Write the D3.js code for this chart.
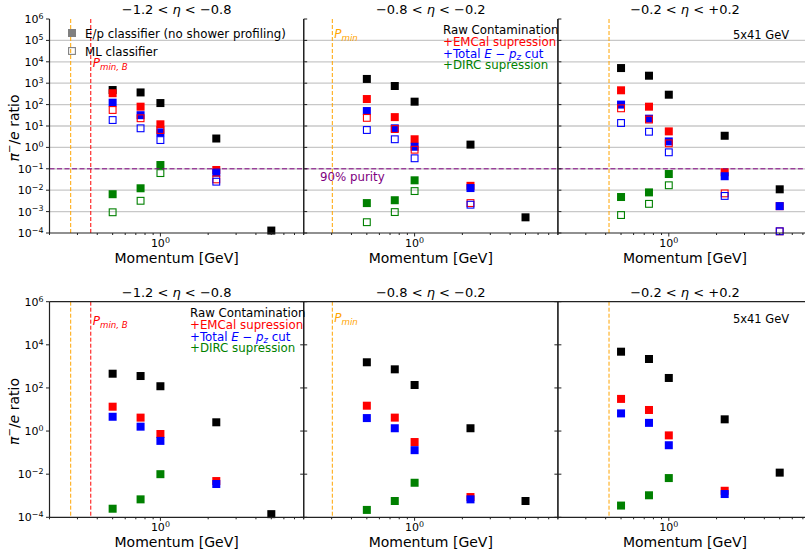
<!DOCTYPE html>
<meta charset="utf-8">
<head>
<title>pi/e ratio vs momentum</title>
<script src="https://cdn.jsdelivr.net/npm/d3@7"></script>
<style>
body { margin: 0; background: #fff; }
text { font-family: "DejaVu Sans", sans-serif; }
</style>
</head>
<body>
<script>

// data
var momentum = [0.5, 0.75, 1.0, 2.25, 5.0];
var etaLo = ["\u22121.2", "\u22120.8", "\u22120.2"];
var etaHi = ["\u22120.8", "\u22120.2", "+0.2"];
var pMin = [0.272, 0.303, 0.42];
var pMinB = 0.364;
var purity = 0.1;
var yTicksTop = [1e-4, 1e-3, 1e-2, 1e-1, 1, 1e1, 1e2, 1e3, 1e4, 1e5, 1e6];
var yTicksBot = [1e-4, 1e-2, 1, 1e2, 1e4, 1e6];
var xMinor = [0.2, 0.3, 0.4, 0.5, 0.6, 0.7, 0.8, 0.9, 2, 3, 4, 5, 6, 7, 8];

// top row: filled = E/p classifier, open = ML classifier
var rawTop   = [[480, 370, 118, 2.6, 1.3e-4], [1580, 740, 137, 1.35, 5.4e-4], [5100, 2240, 290, 3.5, 0.011]];
var emcalEp  = [[340, 80, 12, 0.088, null], [182, 26, 2.4, 0.016, null], [466, 80, 5.6, 0.069, 0.0018]];
var totalEp  = [[123, 32, 5, 0.066, null], [50, 7.8, 1.07, 0.0126, null], [100, 22, 1.9, 0.045, 0.0018]];
var dircEp   = [[0.0065, 0.0123, 0.15, null, null], [0.0025, 0.0034, 0.029, null, null], [0.0048, 0.0079, 0.057, null, null]];
var emcalML  = [[56, 23, 6.5, 0.032, null], [24, 7.2, 0.78, 0.0025, null], [67, 20, 1.55, 0.0071, 1.2e-4]];
var totalML  = [[19, 7.8, 2.2, 0.025, null], [6.5, 2.4, 0.31, 0.0021, null], [13.8, 5.4, 0.59, 0.0054, 1.2e-4]];
var dircML   = [[0.00093, 0.0032, 0.063, null, null], [3.2e-4, 9.5e-4, 0.0091, null, null], [6.9e-4, 0.0023, 0.017, null, null]];

// bottom row
var rawBot   = [[457, 357, 120, 2.55, 1.4e-4], [1550, 730, 137, 1.35, 5.7e-4], [4800, 2200, 290, 3.5, 0.0118]];
var emcalBot = [[13.5, 4.2, 0.73, 0.0048, null], [15, 4.2, 0.31, 8.7e-4, null], [31, 9.5, 0.63, 0.0017, null]];
var totalBot = [[4.6, 1.6, 0.35, 0.0035, null], [4.0, 1.35, 0.13, 6.8e-4, null], [6.6, 2.4, 0.22, 0.0012, null]];
var dircBot  = [[2.5e-4, 6.8e-4, 0.01, null, null], [2.2e-4, 5.7e-4, 0.004, null, null], [3.5e-4, 0.00105, 0.0066, null, null]];

// layout
var W = 805, H = 553;
var cols = [49.5, 303.7, 557.9];
var pw = 254.2;
var rows = [{top: 19, bot: 233}, {top: 301.7, bot: 517.3}];
var RED = "#ff0000", BLUE = "#0000ff", GREEN = "#008000", ORANGE = "#ffa500", PURPLE = "#800080";

var svg = d3.select("body").append("svg").attr("width", W).attr("height", H);

var x = d3.scaleLog().domain([0.2, 8]).range([0, pw]);

// text with simple math parts: [str, kind]  kind: "i" italic, "sub", "sup", "isub"
function mtext(g, parts, size) {
    var t = g.append("text").style("font-size", size + "px");
    var shift = 0;
    parts.forEach(function(p) {
        var s = t.append("tspan").text(p[0]);
        var k = p[1] || "";
        var dy = 0;
        if (k.indexOf("sub") >= 0) { dy = size * 0.22; s.style("font-size", (size * 0.72) + "px"); }
        if (k.indexOf("sup") >= 0) { dy = -size * 0.38; s.style("font-size", (size * 0.72) + "px"); }
        if (k.indexOf("i") === 0) s.style("font-style", "italic");
        s.attr("dy", dy - shift);
        shift = dy;
    });
    return t;
}

function expLabel(v) {
    var e = Math.round(Math.log10(v));
    return [["10", ""], [e < 0 ? "\u2212" + (-e) : "" + e, "sup"]];
}

function drawPanel(r, c) {
    var row = rows[r];
    var g = svg.append("g").attr("transform", "translate(" + cols[c] + ",0)");
    var y = d3.scaleLog().domain([1e-4, 1e6]).range([row.bot, row.top]);

    if (r === 0) {
        g.selectAll(".grid").data(yTicksTop.slice(1, -1)).enter().append("line")
            .attr("x1", 0).attr("x2", pw)
            .attr("y1", function(d) { return y(d); }).attr("y2", function(d) { return y(d); })
            .style("stroke", "#c8c8c8").style("stroke-width", 1.3);
    }

    // Pmin lines
    g.append("line").attr("x1", x(pMin[c])).attr("x2", x(pMin[c]))
        .attr("y1", row.top).attr("y2", row.bot)
        .style("stroke", ORANGE).style("stroke-width", 1).style("stroke-dasharray", "4,2");
    if (c === 0) {
        g.append("line").attr("x1", x(pMinB)).attr("x2", x(pMinB))
            .attr("y1", row.top).attr("y2", row.bot)
            .style("stroke", RED).style("stroke-width", 1).style("stroke-dasharray", "4,2");
        mtext(g, [["P", "i"], ["min, B", "isub"]], 12)
            .attr("x", x(pMinB) + 2).attr("y", r === 0 ? 67 : 325).style("fill", RED);
    }
    if (c === 1) {
        mtext(g, [["P", "i"], ["min", "isub"]], 12)
            .attr("x", x(pMin[c]) + 2).attr("y", r === 0 ? 38 : 322).style("fill", ORANGE);
    }

    var marks = g.append("g");
    function filled(vals, col) {
        var pts = momentum.map(function(m, i) { return [m, vals[i]]; }).filter(function(d) { return d[1] != null; });
        marks.selectAll(null).data(pts).enter().append("rect")
            .attr("x", function(d) { return x(d[0]) - 4; })
            .attr("y", function(d) { return y(d[1]) - 4; })
            .attr("width", 8).attr("height", 8)
            .style("fill", col);
    }
    function open(vals, col) {
        var pts = momentum.map(function(m, i) { return [m, vals[i]]; }).filter(function(d) { return d[1] != null; });
        marks.selectAll(null).data(pts).enter().append("rect")
            .attr("x", function(d) { return x(d[0]) - 3.4; })
            .attr("y", function(d) { return y(d[1]) - 3.4; })
            .attr("width", 6.8).attr("height", 6.8)
            .style("fill", "none").style("stroke", col).style("stroke-width", 1.1);
    }
    if (r === 0) {
        filled(rawTop[c], "#000");
        filled(emcalEp[c], RED);
        filled(totalEp[c], BLUE);
        filled(dircEp[c], GREEN);
        open(emcalML[c], RED);
        open(totalML[c], BLUE);
        open(dircML[c], GREEN);
        g.append("line").attr("x1", 0).attr("x2", pw)
            .attr("y1", y(purity)).attr("y2", y(purity))
            .style("stroke", PURPLE).style("stroke-width", 1).style("stroke-dasharray", "5,2.5");
    } else {
        filled(rawBot[c], "#000");
        filled(emcalBot[c], RED);
        filled(totalBot[c], BLUE);
        filled(dircBot[c], GREEN);
    }

    // spines
    var sp = g.append("g").style("stroke", "#222").style("stroke-width", 1.2);
    sp.append("line").attr("x1", 0).attr("x2", 0).attr("y1", row.top).attr("y2", row.bot);
    sp.append("line").attr("x1", pw).attr("x2", pw).attr("y1", row.top).attr("y2", row.bot);
    sp.append("line").attr("x1", 0).attr("x2", pw).attr("y1", row.bot).attr("y2", row.bot);
    if (r === 1) sp.append("line").attr("x1", 0).attr("x2", pw).attr("y1", row.top).attr("y2", row.top);

    // y ticks
    var yt = r === 0 ? yTicksTop : yTicksBot;
    var tk = g.append("g").style("stroke", "#222").style("stroke-width", 1);
    yt.forEach(function(v) {
        if (c === 0) tk.append("line").attr("x1", -3.5).attr("x2", 0).attr("y1", y(v)).attr("y2", y(v));
        else tk.append("line").attr("x1", 0).attr("x2", 3.5).attr("y1", y(v)).attr("y2", y(v));
        if (r === 1) tk.append("line").attr("x1", pw - 3.5).attr("x2", pw).attr("y1", y(v)).attr("y2", y(v));
    });
    if (c === 0) {
        yt.forEach(function(v) {
            mtext(g, expLabel(v), 11).attr("x", -6).attr("y", y(v) + 4).attr("text-anchor", "end");
        });
        mtext(g, [["\u03c0", "i"], ["\u2212", "sup"], ["/", ""], ["e", "i"], [" ratio", ""]], 14)
            .attr("text-anchor", "middle")
            .attr("transform", "translate(-31," + ((row.top + row.bot) / 2 + 2) + ") rotate(-90)");
    }

    // x ticks
    xMinor.forEach(function(v) {
        tk.append("line").attr("x1", x(v)).attr("x2", x(v)).attr("y1", row.bot).attr("y2", row.bot + 2);
    });
    tk.append("line").attr("x1", x(1)).attr("x2", x(1)).attr("y1", row.bot).attr("y2", row.bot + 3.5);
    mtext(g, expLabel(1), 11).attr("x", x(1)).attr("y", row.bot + 14).attr("text-anchor", "middle");
    g.append("text").attr("x", pw / 2).attr("y", row.bot + 30).attr("text-anchor", "middle")
        .style("font-size", "14px").text("Momentum [GeV]");

    // title
    mtext(g, [[etaLo[c] + " < ", ""], ["\u03b7", "i"], [" < " + etaHi[c], ""]], 13)
        .attr("x", pw / 2).attr("y", row.top - 5).attr("text-anchor", "middle");

    if (c === 2) {
        g.append("text").attr("x", 175).attr("y", r === 0 ? 39 : 323).style("font-size", "11.5px").text("5x41 GeV");
    }
    return g;
}

function colourLegend(gx, y0) {
    var g = svg.append("g");
    var lines = [
        [["Raw Contamination", ""]],
        [["+EMCal supression", ""]],
        [["+Total ", ""], ["E", "i"], [" \u2212 ", ""], ["p", "i"], ["z", "isub"], [" cut", ""]],
        [["+DIRC supression", ""]]
    ];
    var cl = ["#000", RED, BLUE, GREEN];
    var dy = [0, 12.5, 24, 35.5];
    lines.forEach(function(l, i) {
        mtext(g, l, 11.8).attr("x", gx).attr("y", y0 + dy[i]).style("fill", cl[i]);
    });
}

for (var r = 0; r < 2; r++) for (var c = 0; c < 3; c++) drawPanel(r, c);

// purple line label
svg.append("text").attr("x", 320).attr("y", 181).style("font-size", "11.8px").style("fill", PURPLE).text("90% purity");

colourLegend(443, 33.5);
colourLegend(190, 316.5);

// marker legend (top-left)
var lg = svg.append("g");
lg.append("rect").attr("x", 68).attr("y", 29).attr("width", 8).attr("height", 8).style("fill", "#808080");
lg.append("rect").attr("x", 68.6).attr("y", 47.6).attr("width", 6.8).attr("height", 6.8)
    .style("fill", "none").style("stroke", "#808080").style("stroke-width", 1.1);
lg.append("text").attr("x", 85).attr("y", 37.5).style("font-size", "11.8px").text("E/p classifier (no shower profiling)");
lg.append("text").attr("x", 85).attr("y", 55.5).style("font-size", "11.8px").text("ML classifier");

</script>
</body>
</html>
